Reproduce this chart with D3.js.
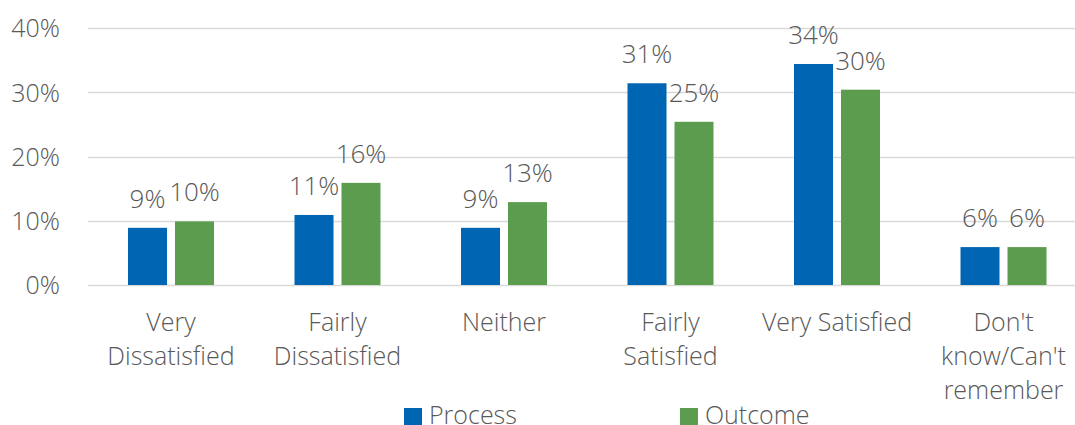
<!DOCTYPE html>
<html>
<head>
<meta charset="utf-8">
<script src="https://cdn.jsdelivr.net/npm/d3@7"></script>
<style>
  body { margin: 0; background: #fff; }
  svg text { font-family: "Open Sans", sans-serif; font-weight: 300; fill: #595959; }
</style>
</head>
<body>
<svg id="chart" width="1075" height="425"></svg>
<script>
// data
let categories = ["Very Dissatisfied", "Fairly Dissatisfied", "Neither", "Fairly Satisfied", "Very Satisfied", "Don't know/Can't remember"];
let categoryLines = [["Very", "Dissatisfied"], ["Fairly", "Dissatisfied"], ["Neither"], ["Fairly", "Satisfied"], ["Very Satisfied"], ["Don't", "know/Can't", "remember"]];
let seriesNames = ["Process", "Outcome"];
let process = [0.089, 0.109, 0.089, 0.314, 0.344, 0.059];
let outcome = [0.099, 0.159, 0.129, 0.254, 0.304, 0.059];
let yTicks = [0, 0.1, 0.2, 0.3, 0.4];
let colors = ["#0066b3", "#5c9c4f"];

let svg = d3.select("#chart");
let fontSize = 25;
let labelSize = 26;

let x0 = d3.scaleBand()
	.domain(categories)
	.range([87.75, 1086.75])
	.paddingInner(0.4835)
	.paddingOuter(0.2417);

let x1 = d3.scaleBand()
	.domain(seriesNames)
	.range([0, x0.bandwidth()])
	.paddingInner(0.17);

let y = d3.scaleLinear()
	.domain([0, 0.4])
	.range([285, 28]);

let color = d3.scaleOrdinal().domain(seriesNames).range(colors);
let fmt = d3.format(".0%");

// gridlines
svg.append("g")
	.selectAll("line")
	.data(yTicks)
	.enter().append("line")
	.attr("x1", 88)
	.attr("x2", 1087)
	.attr("y1", d => Math.round(y(d)) + 0.5)
	.attr("y2", d => Math.round(y(d)) + 0.5)
	.attr("stroke", "#d9d9d9")
	.attr("stroke-width", 1.5);

// y axis labels
let yAxis = d3.axisLeft(y).tickValues(yTicks).tickFormat(fmt).tickSize(0).tickPadding(0);
let yg = svg.append("g").attr("transform", "translate(60,0)").call(yAxis);
yg.select(".domain").remove();
yg.selectAll("text")
	.attr("font-size", fontSize)
	.attr("font-family", null)
	.attr("dy", "0.35em");

// bars
let rows = categories.map((c, i) => ({ cat: c, values: [
	{ key: "Process", value: process[i] },
	{ key: "Outcome", value: outcome[i] }
] }));

let groups = svg.append("g")
	.selectAll("g")
	.data(rows)
	.enter().append("g")
	.attr("transform", d => "translate(" + x0(d.cat) + ",0)");

groups.selectAll("rect")
	.data(d => d.values)
	.enter().append("rect")
	.attr("x", d => x1(d.key))
	.attr("y", d => y(d.value))
	.attr("width", x1.bandwidth())
	.attr("height", d => y(0) - y(d.value))
	.attr("fill", d => color(d.key));

groups.selectAll("text")
	.data(d => d.values)
	.enter().append("text")
	.attr("x", d => x1(d.key) + x1.bandwidth() / 2)
	.attr("y", d => y(d.value) - 20)
	.attr("text-anchor", "middle")
	.attr("font-size", labelSize)
	.text(d => fmt(d.value));

// category labels
let xg = svg.append("g");
categories.forEach((c, i) => {
	let t = xg.append("text")
		.attr("x", x0(c) + x0.bandwidth() / 2)
		.attr("y", 331)
		.attr("text-anchor", "middle")
		.attr("font-size", fontSize);
	categoryLines[i].forEach((line, j) => {
		t.append("tspan")
			.attr("x", x0(c) + x0.bandwidth() / 2)
			.attr("dy", j === 0 ? 0 : 34)
			.text(line);
	});
});

// legend
let legendX = [404, 680];
let legend = svg.append("g")
	.selectAll("g")
	.data(seriesNames)
	.enter().append("g")
	.attr("transform", (d, i) => "translate(" + legendX[i] + ",408)");
legend.append("rect")
	.attr("width", 18)
	.attr("height", 18)
	.attr("fill", d => color(d));
legend.append("text")
	.attr("x", 25)
	.attr("y", 16)
	.attr("font-size", fontSize)
	.text(d => d);
</script>
</body>
</html>
